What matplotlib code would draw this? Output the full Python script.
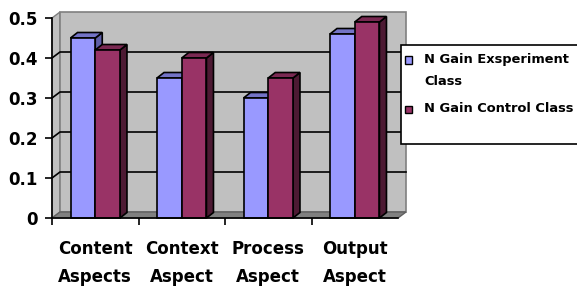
import numpy as np
import matplotlib
matplotlib.use('Agg')
import matplotlib.pyplot as plt
from matplotlib.patches import Polygon, Rectangle

# data
categories = ['Content\nAspects', 'Context\nAspect', 'Process\nAspect', 'Output\nAspect']
experiment = [0.45, 0.35, 0.30, 0.46]
control = [0.42, 0.40, 0.35, 0.49]
series_names = ['N Gain Exsperiment\nClass', 'N Gain Control Class']
y_ticks = [0, 0.1, 0.2, 0.3, 0.4, 0.5]

# front / top / side shades for the two series
blue = ('#9999FF', '#7373C6', '#5F5FA8')
maroon = ('#993366', '#7A2952', '#4D1A33')

plt.rcParams['font.family'] = 'DejaVu Sans'
plt.rcParams['font.weight'] = 'bold'

W, H = 577, 289
fig = plt.figure(figsize=(W / 100, H / 100), dpi=100)
ax = fig.add_axes([52 / W, 71 / H, 346 / W, 200 / H])
ax.set_xlim(0, len(categories))
ax.set_ylim(0, 0.5)
ax.patch.set_visible(False)


def depth(px, py):
    """pixel offset -> data offset"""
    inv = ax.transData.inverted()
    x0, y0 = inv.transform(ax.transData.transform((0, 0)))
    x1, y1 = inv.transform(ax.transData.transform((0, 0)) + np.array([px, py]))
    return x1 - x0, y1 - y0


ddx, ddy = depth(8, 6)      # walls
bdx, bdy = depth(7, 5.5)    # bars
ncat = len(categories)

# walls and floor
ax.add_patch(Polygon([(0, 0), (ddx, ddy), (ddx, 0.5 + ddy), (0, 0.5)],
                     facecolor='#C0C0C0', edgecolor='#808080', lw=1, clip_on=False, zorder=0))
ax.add_patch(Rectangle((ddx, ddy), ncat, 0.5, facecolor='#C0C0C0',
                       edgecolor='#808080', lw=1.2, clip_on=False, zorder=0))
ax.add_patch(Polygon([(0, 0), (ncat, 0), (ncat + ddx, ddy), (ddx, ddy)],
                     facecolor='#808080', edgecolor='#606060', lw=1, clip_on=False, zorder=1))
for y in y_ticks[1:-1]:
    ax.plot([0, ddx, ncat + ddx], [y, y + ddy, y + ddy], color='black', lw=1.2,
            clip_on=False, zorder=1)

# 3d-ish bars
w = 1 / 3.5


def bar3d(x0, h, shades):
    front, top, side = shades
    kw = dict(edgecolor='black', lw=1.2, clip_on=False, zorder=2, joinstyle='miter')
    ax.add_patch(Polygon([(x0 + w, 0), (x0 + w + bdx, bdy), (x0 + w + bdx, h + bdy), (x0 + w, h)],
                         facecolor=side, **kw))
    ax.add_patch(Polygon([(x0, h), (x0 + w, h), (x0 + w + bdx, h + bdy), (x0 + bdx, h + bdy)],
                         facecolor=top, **kw))
    ax.add_patch(Rectangle((x0, 0), w, h, facecolor=front, **kw))


for i in range(ncat):
    x0 = i + 0.75 * w
    bar3d(x0, experiment[i], blue)
    bar3d(x0 + w, control[i], maroon)

# axes
for s in ['top', 'right']:
    ax.spines[s].set_visible(False)
for s in ['left', 'bottom']:
    ax.spines[s].set_linewidth(1.2)
    ax.spines[s].set_zorder(3)
ax.set_yticks(y_ticks)
ax.set_yticklabels(['0' if v == 0 else '%.1f' % v for v in y_ticks])
ax.tick_params(axis='y', direction='out', length=5, width=1.2, pad=5, labelsize=12)
ax.set_xticks(range(ncat))
ax.set_xticklabels([])
ax.set_xticks(np.arange(ncat) + 0.5, minor=True)
ax.set_xticklabels(categories, minor=True, linespacing=1.7)
ax.tick_params(axis='x', which='major', direction='out', length=5, width=1.2)
ax.tick_params(axis='x', which='minor', length=0, pad=16, labelsize=12)

# legend box (runs off the right edge like the original)
fig.patches.append(Rectangle((401 / W, 1 - 144 / H), 190 / W, 99 / H, transform=fig.transFigure,
                             facecolor='white', edgecolor='black', lw=1.2))
rows = [60, 109]
for name, shades, yc in zip(series_names, [blue, maroon], rows):
    fig.patches.append(Rectangle((405 / W, 1 - (yc + 3.5) / H), 7 / W, 7 / H,
                                 transform=fig.transFigure, facecolor=shades[0],
                                 edgecolor='black', lw=1))
    for k, line in enumerate(name.split('\n')):
        fig.text(424 / W, 1 - (yc + 21 * k) / H, line, fontsize=9.4,
                 fontweight='bold', va='center', ha='left')

fig.savefig('out.png', dpi=100)
